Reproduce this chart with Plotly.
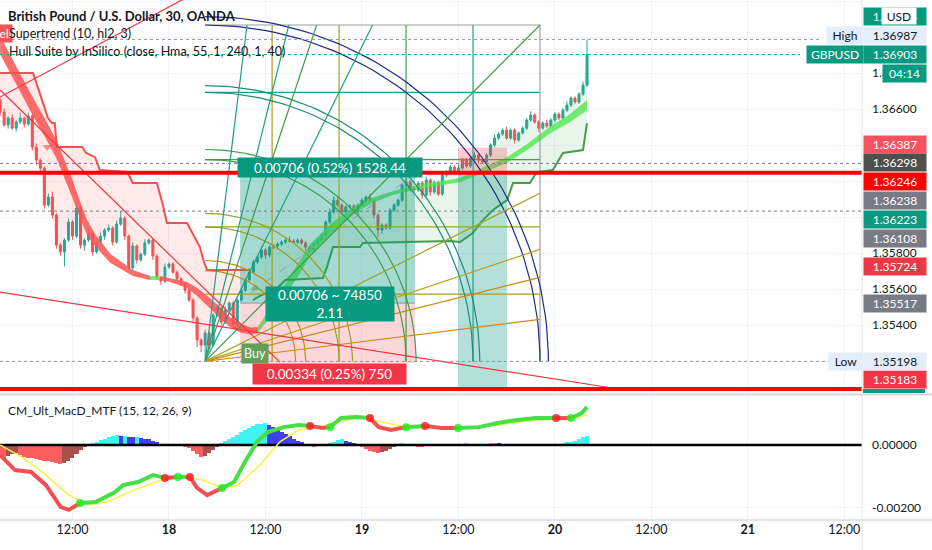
import math
import plotly.graph_objects as go

# ===================== DATA =====================
# bar index: 0 = Fri 15 Jan 12:00, 30-minute bars (weekend gap removed)
first_bar = -18
open0 = 1.36650
closes = [
    1.36583, 1.36511, 1.36550, 1.36494, 1.36528, 1.36550, 1.36517, 1.36561, 1.36389, 1.36317,
    1.36272, 1.36067, 1.36111, 1.36011, 1.35844, 1.35806, 1.35872, 1.35972, 1.35894, 1.36050,
    1.35844, 1.35872, 1.35911, 1.35806, 1.35861, 1.35894, 1.35928, 1.35939, 1.35861, 1.35961,
    1.35994, 1.35894, 1.35717, 1.35839, 1.35761, 1.35794, 1.35856, 1.35872, 1.35783, 1.35661,
    1.35644, 1.35722, 1.35739, 1.35694, 1.35656, 1.35628, 1.35594, 1.35539, 1.35439, 1.35317,
    1.35289, 1.35356, 1.35289, 1.35456, 1.35494, 1.35417, 1.35483, 1.35522, 1.35400, 1.35539,
    1.35594, 1.35650, 1.35694, 1.35750, 1.35778, 1.35817, 1.35789, 1.35833, 1.35839, 1.35850,
    1.35861, 1.35872, 1.35867, 1.35861, 1.35872, 1.35856, 1.35833, 1.35817, 1.35850, 1.35872,
    1.35900, 1.35972, 1.36028, 1.36094, 1.36067, 1.36028, 1.36056, 1.36061, 1.36028, 1.36067,
    1.36094, 1.36111, 1.36094, 1.36011, 1.35928, 1.35956, 1.35939, 1.36039, 1.36067, 1.36094,
    1.36178, 1.36194, 1.36161, 1.36150, 1.36189, 1.36122, 1.36206, 1.36139, 1.36194, 1.36128,
    1.36233, 1.36250, 1.36278, 1.36250, 1.36272, 1.36317, 1.36283, 1.36328, 1.36344, 1.36317,
    1.36306, 1.36344, 1.36400, 1.36439, 1.36461, 1.36483, 1.36439, 1.36483, 1.36428, 1.36467,
    1.36494, 1.36539, 1.36567, 1.36528, 1.36494, 1.36522, 1.36506, 1.36539, 1.36572, 1.36550,
    1.36594, 1.36622, 1.36661, 1.36639, 1.36683, 1.36733, 1.36903]
# upper / lower wick lengths in pips
wick_hi = [1, 2, 1, 2, 1, 3, 1, 2, 1, 2,  1, 1, 2, 3, 1, 1, 1, 2, 1, 2,
           1, 1, 2, 1, 1, 2, 1, 2, 1, 2,  4, 1, 1, 2, 1, 1, 2, 1, 1, 1,
           1, 2, 1, 1, 1, 1, 1, 1, 1, 1,  1, 2, 1, 1, 2, 1, 2, 1, 1, 1,
           1, 1, 2, 1, 1, 2, 1, 1, 1, 1,  1, 1, 2, 1, 1, 1, 1, 1, 1, 1,
           1, 1, 2, 2, 2, 1, 1, 1, 1, 1,  1, 1, 2, 1, 1, 1, 1, 1, 1, 1,
           1, 2, 1, 1, 1, 1, 2, 1, 1, 1,  1, 1, 1, 1, 2, 1, 1, 1, 2, 1,
           1, 1, 1, 2, 1, 1, 2, 1, 1, 1,  1, 1, 2, 1, 1, 1, 2, 1, 1, 1,
           1, 2, 1, 1, 1, 2, 8.4]
wick_lo = [2, 1, 2, 1, 2, 1, 2, 1, 2, 3,  2, 2, 1, 2, 2, 2, 8, 1, 2, 1,
           2, 3, 1, 2, 1, 1, 2, 1, 2, 1,  1, 2, 1, 1, 2, 1, 1, 1, 2, 1,
           2, 1, 1, 1, 1, 1, 2, 1, 2, 4,  4, 9, 2, 1, 1, 2, 1, 1, 2, 1,
           1, 1, 1, 1, 1, 1, 2, 1, 1, 1,  1, 1, 1, 1, 1, 1, 2, 1, 1, 1,
           1, 1, 1, 1, 1, 2, 1, 1, 1, 1,  1, 1, 1, 2, 4, 2, 1, 1, 1, 1,
           1, 1, 2, 1, 1, 2, 1, 2, 1, 1,  1, 1, 1, 1, 1, 1, 1, 1, 1, 2,
           1, 1, 1, 1, 1, 1, 1, 1, 2, 1,  1, 1, 1, 1, 2, 1, 1, 1, 1, 1,
           1, 1, 1, 1, 1, 1, 1]

# Hull Suite ribbon anchors (bar, upper, lower, direction of segment)
hull_bar = [-18.0, -13.1, -9.8, -6.8, -3.9, -1.9, 0.1, 1.9, 3.6, 5.6, 9.3, 15.0, 19.3,
            21.8, 24.3, 28.5, 31.0, 34.2, 36.7, 39.2, 41.7, 44.2, 46.1, 50.4, 56.6, 59.1,
            64.8, 70.8, 74.8, 79.7, 84.7, 88.9, 96.4, 102.1, 108.1, 113.1, 118.8, 123.8, 128.0]
hull_top = [1.37006, 1.36800, 1.36661, 1.36544, 1.36422, 1.36311, 1.36200, 1.36086, 1.35986,
            1.35906, 1.35797, 1.35706, 1.35672, 1.35672, 1.35661, 1.35639, 1.35606, 1.35550,
            1.35497, 1.35444, 1.35408, 1.35386, 1.35389, 1.35544, 1.35758, 1.35850, 1.35972,
            1.36069, 1.36108, 1.36144, 1.36172, 1.36189, 1.36217, 1.36275, 1.36333, 1.36406,
            1.36503, 1.36572, 1.36650]
hull_bot = [1.36906, 1.36700, 1.36561, 1.36444, 1.36322, 1.36211, 1.36100, 1.35992, 1.35903,
            1.35839, 1.35747, 1.35672, 1.35650, 1.35650, 1.35639, 1.35606, 1.35561, 1.35494,
            1.35436, 1.35389, 1.35358, 1.35347, 1.35356, 1.35478, 1.35686, 1.35783, 1.35917,
            1.36031, 1.36081, 1.36122, 1.36150, 1.36167, 1.36194, 1.36247, 1.36300, 1.36372,
            1.36464, 1.36528, 1.36594]
hull_dir = ['dn'] * 12 + ['up'] + ['dn'] * 9 + ['up'] * 17

# Supertrend (10, hl2, 3)
st_dn_bar = [-18.0, -9.8, -8.8, -7.3, -6.1, -5.1, -4.4, -3.9, 2.4, 3.4, 4.4, 5.6, 6.8, 13.6,
             15.0, 21.0, 22.5, 23.5, 28.5, 30.0, 31.7, 32.7, 33.5, 44.2]
st_dn_val = [1.36800, 1.36800, 1.36733, 1.36633, 1.36550, 1.36522, 1.36522, 1.36389, 1.36389,
             1.36356, 1.36344, 1.36333, 1.36261, 1.36250, 1.36189, 1.36189, 1.36067, 1.35967,
             1.35967, 1.35900, 1.35833, 1.35750, 1.35706, 1.35706]
st_up_bar = [44.9, 47.1, 50.4, 52.9, 62.3, 63.3, 64.8, 71.5, 72.3, 93.9, 96.4, 99.6, 102.1,
             104.6, 108.1, 109.6, 113.8, 115.5, 119.5, 122.0, 127.0, 128.0]
st_up_val = [1.35539, 1.35567, 1.35594, 1.35650, 1.35661, 1.35722, 1.35833, 1.35833, 1.35856,
             1.35867, 1.35861, 1.35911, 1.35983, 1.36039, 1.36094, 1.36189, 1.36189, 1.36250,
             1.36261, 1.36356, 1.36372, 1.36522]
st_sell = (-6.3, 1.36389)
st_buy = (45.4, 1.35606)

# Gann square
gann_origin = (33.0, 1.35198)
gann_end = (116.3, 1.37067)
gann_levels = [0.2, 0.4, 0.6, 0.8, 1.0]
arc_levels = [0.27, 0.30, 0.40, 0.44, 0.60, 0.63, 0.80, 0.82, 1.0, 1.025]
fan_ratios = [(0.125, 1), (0.25, 1), (0.333, 1), (0.5, 1), (1, 1), (1, 0.5), (1, 0.333), (1, 0.25), (1, 0.125)]

# Long position tool
long_pos = dict(start=41.7, end=85.2, entry=1.35522, target=1.36228, stop=1.35188)
long_path = ([44.2, 83.2], [1.35578, 1.36206])
# Short position tool
short_pos = dict(start=95.9, end=108.1, entry=1.36246, stop=1.36387, target=1.35056)
short_mark = (97.1, 1.36317)

# Trend lines (bar, price) pairs
trend_lines = [([-18.0, 35.0], [1.36667, 1.37299]),
               ([-18.0, 51.6], [1.36706, 1.35194]),
               ([-18.0, 137.4], [1.35583, 1.35039])]
hlines_red = [1.36246, 1.35044]
hi_price, last_price, lo_price = 1.36987, 1.36903, 1.35198
dotted_levels = [1.36298, 1.36033]

# MACD (CM_Ult_MacD_MTF) histogram in 1e-5 units
hist = [-40, -42, -35, -28, -25, -32, -38, -40, -42, -45,
        -48, -50, -52, -55, -57, -60, -58, -50, -40, -28,
        -15, -5, 2, 5, 10, 15, 20, 25, 30, 32,
        28, 30, 26, 24, 25, 22, 20, 18, 14, 8,
        3, 0, -3, 0, 2, -2, -5, -10, -20, -30,
        -38, -35, -25, -15, -5, 5, 12, 18, 25, 32,
        40, 48, 55, 62, 66, 68, 70, 63, 56, 49,
        42, 35, 28, 20, 14, 8, 3, -3, -6, -4,
        -2, 0, 5, 10, 15, 18, 14, 10, 6, 2,
        -5, -12, -18, -22, -25, -22, -18, -12, -6, 3,
        5, 4, 2, -3, -5, -6, -4, -2, 0, 2,
        3, 4, 3, 2, 3, 4, 5, 4, 3, 2,
        3, 4, 5, 6, 5, 4, 3, 2, 1, 2,
        3, 2, 1, 0, -1, -2, -1, 1, 2, 4,
        6, 8, 10, 14, 20, 25, 30]
macd_bar = [-18, -14.3, -10.3, -6.6, -2.9, -0.9, 1.9, 5.8, 10.6, 12.6, 16.3, 20.0, 23.0, 26.2,
            29.2, 31.0, 33.5, 37.2, 40.2, 42.9, 45.9, 48.6, 52.6, 56.3, 59.1, 62.1, 64.1, 66.8,
            70.5, 74.0, 76.2, 79.2, 83.0, 87.7, 91.7, 95.9, 101.1, 105.8, 110.6, 115.3, 120.3,
            124.0, 126.7, 128]
macd_val = [-32, -80, -86, -128, -198, -207, -185, -182, -150, -128, -118, -96, -105, -102,
            -102, -137, -160, -137, -118, -54, 10, 41, 57, 64, 61, 54, 57, 86,
            89, 86, 57, 48, 57, 61, 54, 54, 57, 70, 80, 86, 86,
            86, 102, 121]
macd_cross_bar = [1.9, 23.0, 26.2, 29.2, 37.2, 59.1, 64.1, 74.0, 83.0, 87.7, 95.9, 120.3, 124.0]
macd_cross_dir = ['up', 'dn', 'up', 'dn', 'up', 'dn', 'up', 'dn', 'up', 'dn', 'up', 'dn', 'up']
sig_bar = [-18, -12.3, -6.6, -0.9, 3.9, 8.6, 15.3, 22.0, 27.7, 32.5, 37.2, 41.2, 46.6, 51.6,
           56.3, 61.1, 65.8, 72.5, 77.2, 83.0, 91.7, 96.4, 105.8, 115.3, 125.0, 128]
sig_val = [0, -41, -96, -160, -191, -182, -144, -112, -102, -112, -137, -128, -64, 10,
           48, 57, 73, 89, 73, 57, 57, 54, 64, 80, 86, 96]

x_tick_bars = [0, 24, 48, 72, 96, 120, 144, 168, 192]
x_tick_text = ["12:00", "<b>18</b>", "12:00", "<b>19</b>", "12:00", "<b>20</b>", "12:00", "<b>21</b>", "12:00"]

# ===================== LAYOUT CONSTANTS =====================
W, H = 932, 550
PR = 862  # right edge of the plot area (px)
FONT = "Lato, Roboto, sans-serif"
UP, DN = "#26A69A", "#EF5350"
TEAL, RED = "#089981", "#F23645"


def px_x(x):
    return x / W


def px_y(y):
    return 1 - y / H


fig = go.Figure()


def add_line(xs, ys, color, width=1.0, dash=None, axis=("x", "y"), shape="linear", opacity=1.0):
    fig.add_trace(go.Scatter(x=xs, y=ys, mode="lines", xaxis=axis[0], yaxis=axis[1],
                             line=dict(color=color, width=width, dash=dash, shape=shape),
                             opacity=opacity, hoverinfo="skip", showlegend=False))


def add_poly(xs, ys, fill, axis=("x", "y")):
    fig.add_trace(go.Scatter(x=xs, y=ys, mode="lines", fill="toself", fillcolor=fill,
                             line=dict(width=0), xaxis=axis[0], yaxis=axis[1],
                             hoverinfo="skip", showlegend=False))


bars = [first_bar + k for k in range(len(closes))]
opens = [open0] + closes[:-1]
highs = [max(o, c) + w * 1e-4 for o, c, w in zip(opens, closes, wick_hi)]
lows = [min(o, c) - w * 1e-4 for o, c, w in zip(opens, closes, wick_lo)]

# ---- Supertrend fills ----
k_flip = int(round(st_dn_bar[-1] - first_bar))
add_poly(st_dn_bar + bars[k_flip::-1], st_dn_val + closes[k_flip::-1], "rgba(255,82,82,0.13)")
add_poly(st_up_bar + bars[:k_flip:-1], st_up_val + closes[:k_flip:-1], "rgba(76,175,80,0.12)")

# ---- Hull ribbon ----
runs = []
j = 0
n = len(hull_bar)
while j < n - 1:
    d = hull_dir[j]
    s = j
    while j < n - 1 and hull_dir[j] == d:
        j += 1
    runs.append((s, j, d))
for s, e, d in runs:
    xs = hull_bar[s:e + 1] + hull_bar[s:e + 1][::-1]
    ys = hull_top[s:e + 1] + hull_bot[s:e + 1][::-1]
    add_poly(xs, ys, "rgba(255,82,82,0.85)" if d == 'dn' else "rgba(80,232,80,0.8)")

# ---- Candles ----
fig.add_trace(go.Candlestick(x=bars, open=opens, high=highs, low=lows, close=closes,
                             increasing=dict(line=dict(color=UP, width=1), fillcolor=UP),
                             decreasing=dict(line=dict(color=DN, width=1), fillcolor=DN),
                             whiskerwidth=0, hoverinfo="skip", showlegend=False,
                             xaxis="x", yaxis="y"))

# ---- Supertrend lines ----
add_line(st_dn_bar, st_dn_val, "#EF5350", 2)
add_line(st_up_bar, st_up_val, "#43A047", 2)

# ---- Long position ----
lp = long_pos
add_poly([lp["start"], lp["end"], lp["end"], lp["start"]],
         [lp["entry"], lp["entry"], lp["target"], lp["target"]], "rgba(8,153,129,0.36)")
add_poly([lp["start"], lp["end"], lp["end"], lp["start"]],
         [lp["entry"], lp["entry"], lp["stop"], lp["stop"]], "rgba(242,54,69,0.2)")
add_line([lp["start"], lp["end"]], [lp["entry"], lp["entry"]], "#9598A1", 1)
add_line(long_path[0], long_path[1], "#9598A1", 1, dash="dash")
# ---- Short position ----
sp = short_pos
add_poly([sp["start"], sp["end"], sp["end"], sp["start"]],
         [sp["entry"], sp["entry"], sp["stop"], sp["stop"]], "rgba(242,54,69,0.25)")
add_poly([sp["start"], sp["end"], sp["end"], sp["start"]],
         [sp["entry"], sp["entry"], sp["target"], sp["target"]], "rgba(8,153,129,0.3)")

# ---- Gann square ----
gx0, gy0 = gann_origin
gW, gH = gann_end[0] - gx0, gann_end[1] - gy0
grid_cols = ["#B09A1E", "#9AAA22", "#43A047", "#1E9E86", "#9E9E9E"]
for f, c in zip(gann_levels, grid_cols):
    add_line([gx0 + f * gW] * 2, [gy0, gy0 + gH], c, 1.2)
    add_line([gx0, gx0 + gW], [gy0 + f * gH] * 2, c, 1.2)
arc_cols = ["#C98A12", "#C98A12", "#9AA022", "#9AA022", "#3E9E4A", "#3E9E4A",
            "#1E8E76", "#1E8E76", "#1F2A8A", "#1F2A8A"]
for r, c in zip(arc_levels, arc_cols):
    ts = [i * (math.pi / 2) / 60 for i in range(61)]
    add_line([gx0 + r * gW * math.sin(t) for t in ts], [gy0 + r * gH * math.cos(t) for t in ts], c, 1.2)
fan_cols = ["#1E9E86", "#1E9E86", "#3E9E4A", "#1E9E86", "#3E9E4A", "#A4A41C", "#C0A020", "#C98A12", "#D08A10"]
for (fx, fy), c in zip(fan_ratios, fan_cols):
    add_line([gx0, gx0 + fx * gW], [gy0, gy0 + fy * gH], c, 1.2)

# ---- trend lines & horizontal lines ----
for xs, ys in trend_lines:
    add_line(xs, ys, "#F23645", 1.2)
x_lo, x_hi = -18.03, 196.4
for p in hlines_red:
    add_line([x_lo, x_hi], [p, p], "#FF0000", 4)
add_line([x_lo, 186.0], [hi_price] * 2, "#9598A1", 1, dash="dot")
add_line([x_lo, 181.0], [last_price] * 2, "#26A69A", 1, dash="dot")
add_line([x_lo, x_hi], [lo_price] * 2, "#9598A1", 1, dash="dot")
for p in dotted_levels:
    add_line([x_lo, x_hi], [p, p], "#787B86", 1, dash="dot")

# ---- markers ----
fig.add_trace(go.Scatter(x=[st_sell[0]], y=[st_sell[1]], mode="markers", xaxis="x", yaxis="y",
                         marker=dict(symbol="triangle-down", size=8, color="rgba(255,82,82,0.6)"),
                         hoverinfo="skip", showlegend=False))
fig.add_trace(go.Scatter(x=[st_buy[0]], y=[st_buy[1]], mode="markers", xaxis="x", yaxis="y",
                         marker=dict(symbol="triangle-up", size=8, color="rgba(76,175,80,0.6)"),
                         hoverinfo="skip", showlegend=False))
fig.add_trace(go.Scatter(x=[short_mark[0]], y=[short_mark[1]], mode="markers", xaxis="x", yaxis="y",
                         marker=dict(symbol="triangle-down", size=7, color="rgba(255,82,82,0.6)"),
                         hoverinfo="skip", showlegend=False))

# ===================== MACD pane =====================
hv = [h * 1e-5 for h in hist]
hcol = []
for i, h in enumerate(hv):
    prev = hv[i - 1] if i > 0 else h
    if h >= 0:
        hcol.append("rgba(0,238,238,0.75)" if h >= prev else "rgba(0,0,230,0.75)")
    else:
        hcol.append("rgba(255,40,40,0.75)" if h <= prev else "rgba(140,20,20,0.75)")
fig.add_trace(go.Bar(x=bars, y=hv, marker=dict(color=hcol, line=dict(width=0)), width=1.0,
                     xaxis="x2", yaxis="y2", hoverinfo="skip", showlegend=False))
add_line([x_lo, x_hi], [0, 0], "#000000", 2.5, axis=("x2", "y2"))
add_line(sig_bar, [v * 1e-5 for v in sig_val], "#F5F53C", 1.5, axis=("x2", "y2"))
# macd line split by cross state
state = 'dn'
seg_x, seg_y = [], []
for b, v in zip(macd_bar, macd_val):
    seg_x.append(b)
    seg_y.append(v * 1e-5)
    if b in macd_cross_bar:
        add_line(seg_x, seg_y, "#F05050" if state == 'dn' else "#44E044", 4, axis=("x2", "y2"))
        state = macd_cross_dir[macd_cross_bar.index(b)]
        seg_x, seg_y = [b], [v * 1e-5]
add_line(seg_x, seg_y, "#F05050" if state == 'dn' else "#44E044", 4, axis=("x2", "y2"))
cross_v = [macd_val[macd_bar.index(b)] * 1e-5 for b in macd_cross_bar]
fig.add_trace(go.Scatter(x=macd_cross_bar, y=cross_v, mode="markers", xaxis="x2", yaxis="y2",
                         marker=dict(size=8, color=["#22EE22" if d == 'up' else "#FF2020" for d in macd_cross_dir],
                                     opacity=0.85),
                         hoverinfo="skip", showlegend=False))

# ===================== annotations =====================
ann = []


def text_ann(x, y, t, size=13, color="#131722", bold=False, xanchor="left"):
    ann.append(dict(x=px_x(x), y=px_y(y), xref="paper", yref="paper", text=f"<b>{t}</b>" if bold else t,
                    showarrow=False, xanchor=xanchor, yanchor="middle",
                    font=dict(family=FONT, size=size, color=color)))


def box_ann(x, y, w, t, bg, fg="white", h=17, size=12):
    ann.append(dict(x=px_x(x), y=px_y(y), xref="paper", yref="paper", text=t, showarrow=False,
                    xanchor="left", yanchor="middle", width=w, height=h, align="center",
                    bgcolor=bg, borderpad=0, font=dict(family=FONT, size=size, color=fg)))


# Sell label (mostly off-screen, drawn under the legend text)
ann.append(dict(x=px_x(13), y=px_y(33), xref="paper", yref="paper", text="Sell", showarrow=False,
                xanchor="right", yanchor="middle", bgcolor="#F05454", borderpad=1,
                font=dict(family=FONT, size=12, color="white")))
text_ann(6, 16, "British Pound / U.S. Dollar, 30, OANDA", 13, bold=True)
text_ann(7, 34, "Supertrend (10, hl2, 3)", 12.5)
text_ann(7, 52, "Hull Suite by InSilico (close, Hma, 55, 1, 240, 1, 40)", 12.5)
text_ann(6, 410, "CM_Ult_MacD_MTF (15, 12, 26, 9)", 12)
# Buy label
ann.append(dict(x=px_x(255), y=px_y(353), xref="paper", yref="paper", text="Buy", showarrow=False,
                xanchor="center", yanchor="middle", bgcolor="#62A05A", borderpad=2,
                font=dict(family=FONT, size=12.5, color="white")))
# position labels
box_ann(237, 167, 184, "0.00706 (0.52%) 1528.44", TEAL, h=19, size=13.5)
box_ann(265, 304, 128, "0.00706 ~ 74850<br>2.11", TEAL, h=34, size=13.5)
box_ann(252, 374, 153, "0.00334 (0.25%) 750", RED, h=20, size=13.5)

# right scale labels
LB = "#E3EEFA"
box_ann(863, 16.5, 62, "1.37044", TEAL)
box_ann(881, 15.5, 34, "USD", "white", fg="#131722", h=16)
box_ann(826, 36, 36, "High", LB, fg="#131722")
box_ann(863, 36, 62, "1.36987", LB, fg="#131722")
box_ann(806, 54.5, 56, "GBPUSD", TEAL)
box_ann(863, 54.5, 62, "1.36903", TEAL)
box_ann(882, 74, 43, "04:14", TEAL)
right_labels = [("1.36387", "#F7525F", 144), ("1.36298", "#4F4F4F", 162.5), ("1.36246", "#FF0000", 181),
                ("1.36238", "#787B86", 200.5), ("1.36223", TEAL, 219), ("1.36108", "#787B86", 238),
                ("1.35724", "#F23645", 266), ("1.35517", "#787B86", 303), ("1.35183", "#F23645", 379.5)]
for t, bg, y in right_labels:
    box_ann(863, y, 62, t, bg)
box_ann(828, 361, 34, "Low", LB, fg="#131722")
box_ann(863, 361, 62, "1.35198", LB, fg="#131722")

shapes = [
    dict(type="rect", xref="paper", yref="paper", x0=px_x(863), x1=px_x(925), y0=px_y(393), y1=px_y(389),
         fillcolor=TEAL, line=dict(width=0)),
    dict(type="line", xref="paper", yref="paper", x0=px_x(PR), x1=px_x(PR), y0=0, y1=1,
         line=dict(color="#E0E3EB", width=1)),
    dict(type="line", xref="paper", yref="paper", x0=0, x1=1, y0=px_y(394.5), y1=px_y(394.5),
         line=dict(color="#D6D8DE", width=2)),
    dict(type="line", xref="paper", yref="paper", x0=0, x1=1, y0=px_y(520), y1=px_y(520),
         line=dict(color="#D6D8DE", width=1.5)),
]

y_main_rng = [1.35028, 1.37206]
y_macd_rng = [-0.002392, 0.001531]
price_ticks = [1.352 + 0.002 * i for i in range(11)]

fig.update_layout(
    width=W, height=H, margin=dict(l=0, r=0, t=0, b=0, autoexpand=False),
    paper_bgcolor="white", plot_bgcolor="white", showlegend=False,
    xaxis=dict(domain=[0, PR / W], range=[x_lo, x_hi], anchor="y", tickvals=x_tick_bars,
               showticklabels=False, showgrid=True, gridcolor="#F0F3FA", zeroline=False,
               rangeslider=dict(visible=False), fixedrange=True, automargin=False),
    xaxis2=dict(domain=[0, PR / W], range=[x_lo, x_hi], anchor="y2", tickvals=x_tick_bars,
                ticktext=x_tick_text, showgrid=True, gridcolor="#F0F3FA", zeroline=False,
                tickfont=dict(family=FONT, size=12.5, color="#131722"), ticks="", fixedrange=True,
                automargin=False),
    yaxis=dict(domain=[1 - 392 / H, 1], range=y_main_rng, side="right", anchor="x",
               tickvals=price_ticks, ticktext=[f"{p:.5f}" for p in price_ticks],
               showgrid=True, gridcolor="#F0F3FA", zeroline=False, ticks="", automargin=False,
               ticklabelstandoff=9, tickfont=dict(family=FONT, size=12, color="#131722")),
    yaxis2=dict(domain=[1 - 520 / H, 1 - 397 / H], range=y_macd_rng, side="right", anchor="x2",
                tickvals=[-0.002, 0.0], ticktext=["-0.00200", "0.00000"], automargin=False,
                showgrid=True, gridcolor="#F0F3FA", zeroline=False, ticks="",
                ticklabelstandoff=9, tickfont=dict(family=FONT, size=12, color="#131722")),
    annotations=ann, shapes=shapes, bargap=0,
)

fig.write_html("out.html", config={"displayModeBar": False},
               post_script="document.body.style.margin='0px';document.body.style.overflow='hidden';")
